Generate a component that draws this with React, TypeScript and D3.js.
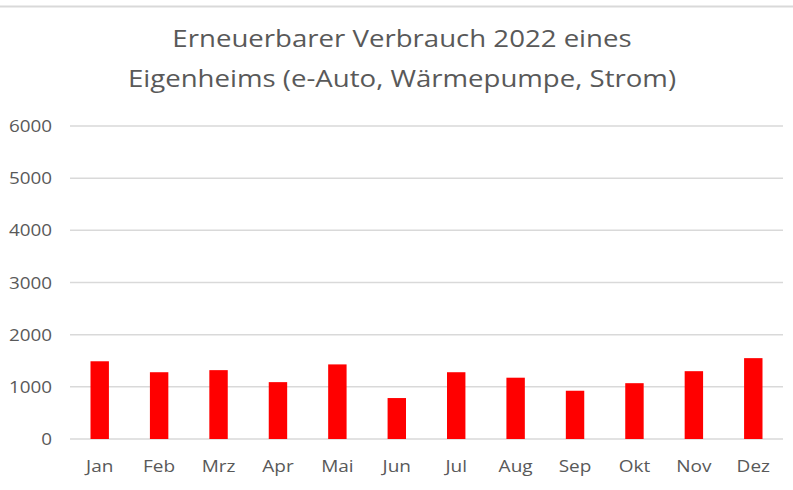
import React from "react";
import * as d3 from "d3";

const months = ["Jan", "Feb", "Mrz", "Apr", "Mai", "Jun", "Jul", "Aug", "Sep", "Okt", "Nov", "Dez"];
const values = [1490, 1280, 1320, 1090, 1430, 785, 1280, 1175, 925, 1070, 1300, 1550];
const yTicks = [0, 1000, 2000, 3000, 4000, 5000, 6000];
const titleLines = ["Erneuerbarer Verbrauch 2022 eines", "Eigenheims (e-Auto, Wärmepumpe, Strom)"];

const W = 793;
const H = 490;
const FONT = "'Open Sans', sans-serif";

export default function App() {
  const x = d3.scaleBand<string>().domain(months).range([70, 783]).paddingInner(0.69).paddingOuter(0.345);
  const y = d3.scaleLinear().domain([0, 6000]).range([439, 126]);

  return (
    <svg width={W} height={H} style={{ position: "absolute", left: 0, top: 0, background: "#fff" }} fontFamily={FONT}>
      <rect x={0} y={0} width={W} height={H} fill="#fff" />
      <line x1={0} x2={W} y1={6.5} y2={6.5} stroke="#d9d9d9" strokeWidth={2} />
      {titleLines.map((t, i) => (
        <text key={t} transform={`translate(402,${47 + i * 40}) scale(1.2,1)`} textAnchor="middle" fontSize={23} fill="#595959">
          {t}
        </text>
      ))}
      {yTicks.map((t) => (
        <g key={t}>
          <line x1={70} x2={783} y1={y(t)} y2={y(t)} stroke="#d9d9d9" strokeWidth={1.5} />
          <text transform={`translate(52,${y(t)}) scale(1.11,1)`} dy="0.36em" textAnchor="end" fontSize={17} fill="#595959">
            {t}
          </text>
        </g>
      ))}
      {months.map((m, i) => (
        <rect key={m} x={x(m)} y={y(values[i])} width={x.bandwidth()} height={y(0) - y(values[i])} fill="#ff0000" />
      ))}
      {months.map((m) => (
        <text
          key={m}
          transform={`translate(${(x(m) as number) + x.bandwidth() / 2},472) scale(1.12,1)`}
          textAnchor="middle"
          fontSize={17}
          fill="#595959"
        >
          {m}
        </text>
      ))}
    </svg>
  );
}
